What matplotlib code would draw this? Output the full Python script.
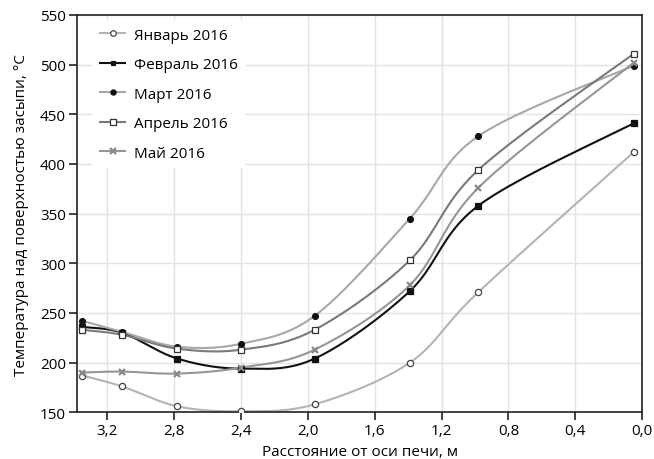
import numpy as np
import matplotlib
matplotlib.use("Agg")
import matplotlib.pyplot as plt

plt.rcParams["font.family"] = ["Open Sans", "DejaVu Sans"]

# distance from kiln axis, m
dist = [3.35, 3.11, 2.78, 2.40, 1.96, 1.39, 0.98, 0.05]

jan = [187, 176, 156, 151, 158, 200, 271, 412]
feb = [236, 230, 204, 194, 204, 272, 358, 441]
mar = [242, 231, 216, 219, 247, 345, 428, 499]
apr = [233, 228, 214, 213, 233, 303, 394, 511]
may = [190, 191, 189, 195, 213, 278, 376, 502]

labels = ["Январь 2016", "Февраль 2016", "Март 2016", "Апрель 2016", "Май 2016"]


def smooth(x, y, sx=166.7, sy=0.993, n=24):
    # Catmull-Rom through the points, done in pixel-like units
    p = np.column_stack([np.asarray(x) * sx, np.asarray(y) * sy])
    p = np.vstack([p[0], p, p[-1]])
    out = []
    for i in range(1, len(p) - 2):
        p0, p1, p2, p3 = p[i - 1], p[i], p[i + 1], p[i + 2]
        t = np.linspace(0, 1, n)[:, None]
        seg = 0.5 * ((2 * p1) + (-p0 + p2) * t + (2 * p0 - 5 * p1 + 4 * p2 - p3) * t ** 2
                     + (-p0 + 3 * p1 - 3 * p2 + p3) * t ** 3)
        out.append(seg)
    out = np.vstack(out)
    return out[:, 0] / sx, out[:, 1] / sy


fig = plt.figure(figsize=(6.54, 4.6), dpi=100)
ax = fig.add_axes([0.118, 0.1015, 0.864, 0.864])

styles = [
    dict(color="#b4b4b4", marker="o", mfc="white", mec="#444444", ms=4.5, mew=0.9),
    dict(color="#111111", marker="s", mfc="#111111", mec="#111111", ms=4, mew=0.9),
    dict(color="#a8a8a8", marker="o", mfc="#111111", mec="#111111", ms=4.2, mew=0.9),
    dict(color="#7a7a7a", marker="s", mfc="white", mec="#333333", ms=4.6, mew=0.9),
    dict(color="#969696", marker="x", mfc="#8a8a8a", mec="#8a8a8a", ms=5, mew=1.6),
]

for ys, lab, st in zip([jan, feb, mar, apr, may], labels, styles):
    xs, yy = smooth(dist, ys)
    ax.plot(xs, yy, color=st["color"], lw=1.5, zorder=2)
    ax.plot(dist, ys, linestyle="none", marker=st["marker"], mfc=st["mfc"],
            mec=st["mec"], ms=st["ms"], mew=st["mew"], zorder=3)
    # legend proxy
    ax.plot([], [], color=st["color"], lw=1.5, marker=st["marker"], mfc=st["mfc"],
            mec=st["mec"], ms=st["ms"] - 0.5, mew=st["mew"], label=lab)

ax.set_xlim(3.38, 0.0)
ax.set_ylim(150, 550)
ax.set_xticks([3.2, 2.8, 2.4, 2.0, 1.6, 1.2, 0.8, 0.4, 0.0])
ax.set_xticklabels(["3,2", "2,8", "2,4", "2,0", "1,6", "1,2", "0,8", "0,4", "0,0"])
ax.set_yticks(range(150, 551, 50))
ax.grid(True, color="#e3e3e3", lw=1)
ax.set_axisbelow(True)
for s in ax.spines.values():
    s.set_color("#222222")
    s.set_linewidth(1.2)
ax.tick_params(axis="both", labelsize=11, color="#222222", length=6, width=1.2, pad=2)

ax.set_ylabel("Температура над поверхностью засыпи, °С", fontsize=11, labelpad=8)
ax.set_xlabel("Расстояние от оси печи, м", fontsize=11, labelpad=4)

leg = ax.legend(loc="upper left", bbox_to_anchor=(0.027, 0.987), fontsize=11,
                frameon=True, fancybox=False, edgecolor="none", facecolor="white",
                framealpha=1, handlelength=1.65, handletextpad=0.55,
                labelspacing=0.95, borderpad=0.5, borderaxespad=0)

fig.savefig("out.png", dpi=100)
